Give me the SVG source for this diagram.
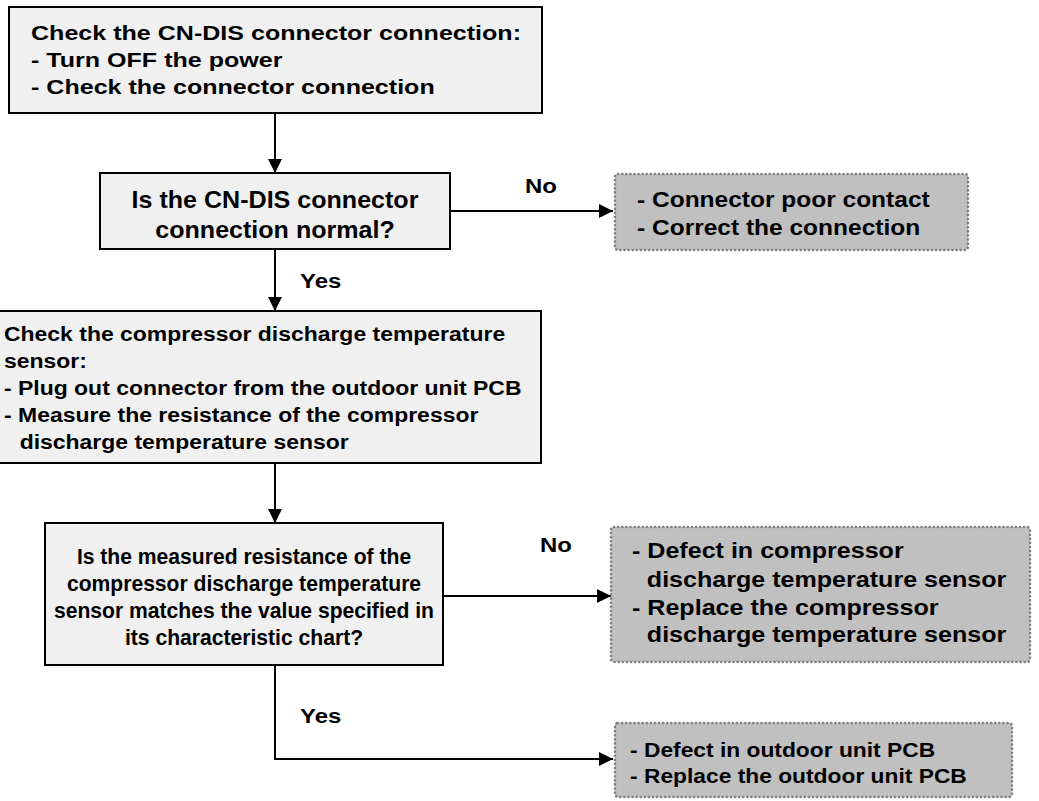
<svg xmlns="http://www.w3.org/2000/svg" width="1039" height="801" viewBox="0 0 1039 801">
<defs>
<style>
.box{fill:#f0f0f0;stroke:#000;stroke-width:2}
.res{fill:#c0c0c0;stroke:#7f7f7f;stroke-width:2.6;stroke-dasharray:0.1 4;stroke-linecap:round}
.t{font-family:"Liberation Sans",Arial,sans-serif;font-weight:bold;fill:#000}
.line{fill:none;stroke:#000;stroke-width:2}
</style>
<marker id="ah" viewBox="0 0 14 14" refX="14" refY="7" markerWidth="14" markerHeight="14" markerUnits="userSpaceOnUse" orient="auto">
<path d="M0,0 L14,7 L0,14 z" fill="#000"/>
</marker>
</defs>
<g id="connectors">
<line class="line" x1="275" y1="113" x2="275" y2="173" marker-end="url(#ah)"/>
<line class="line" x1="450" y1="211" x2="613" y2="211" marker-end="url(#ah)"/>
<line class="line" x1="275" y1="249" x2="275" y2="311" marker-end="url(#ah)"/>
<line class="line" x1="275" y1="463" x2="275" y2="523" marker-end="url(#ah)"/>
<line class="line" x1="443" y1="596" x2="611" y2="596" marker-end="url(#ah)"/>
<polyline class="line" points="275,665 275,759 613,759" marker-end="url(#ah)"/>
<text class="t" font-size="21" transform="translate(525,0) scale(1.14,1)" y="193">No</text>
<text class="t" font-size="21" transform="translate(300,0) scale(1.14,1)" y="288">Yes</text>
<text class="t" font-size="21" transform="translate(540,0) scale(1.14,1)" y="552">No</text>
<text class="t" font-size="21" transform="translate(300,0) scale(1.14,1)" y="723">Yes</text>
</g>
<g id="n1">
<rect class="box" x="9" y="7" width="533" height="106"/>
<text class="t" font-size="21" transform="translate(31,0) scale(1.194,1)"><tspan x="0" y="40">Check the CN-DIS connector connection:</tspan><tspan x="0" y="67">- Turn OFF the power</tspan><tspan x="0" y="94">- Check the connector connection</tspan></text>
</g>
<g id="n2">
<rect class="box" x="100" y="173" width="350" height="76"/>
<text class="t" font-size="23" text-anchor="middle" transform="translate(275,0) scale(1.09,1)"><tspan x="0" y="208">Is the CN-DIS connector</tspan><tspan x="0" y="238">connection normal?</tspan></text>
</g>
<g id="n3">
<rect class="res" x="615" y="174" width="353" height="76" rx="3"/>
<text class="t" font-size="21.5" transform="translate(637,0) scale(1.14,1)"><tspan x="0" y="207">- Connector poor contact</tspan><tspan x="0" y="235">- Correct the connection</tspan></text>
</g>
<g id="n4">
<rect class="box" x="-2" y="311" width="543" height="152"/>
<text class="t" font-size="20.5" transform="translate(4,0) scale(1.12,1)"><tspan x="0" y="341">Check the compressor discharge temperature</tspan><tspan x="0" y="368">sensor:</tspan><tspan x="0" y="395">- Plug out connector from the outdoor unit PCB</tspan><tspan x="0" y="422">- Measure the resistance of the compressor</tspan><tspan x="14" y="449">discharge temperature sensor</tspan></text>
</g>
<g id="n5">
<rect class="box" x="45" y="523" width="398" height="142"/>
<text class="t" font-size="22" text-anchor="middle" transform="translate(244,0) scale(0.96,1)"><tspan x="0" y="564">Is the measured resistance of the</tspan><tspan x="0" y="591">compressor discharge temperature</tspan><tspan x="0" y="618">sensor matches the value specified in</tspan><tspan x="0" y="645">its characteristic chart?</tspan></text>
</g>
<g id="n6">
<rect class="res" x="611" y="527" width="419" height="135" rx="3"/>
<text class="t" font-size="22" transform="translate(632,0) scale(1.14,1)"><tspan x="0" y="558">- Defect in compressor</tspan><tspan x="13" y="587">discharge temperature sensor</tspan><tspan x="0" y="615">- Replace the compressor</tspan><tspan x="13" y="642">discharge temperature sensor</tspan></text>
</g>
<g id="n7">
<rect class="res" x="615" y="723" width="397" height="74" rx="3"/>
<text class="t" font-size="20" transform="translate(630,0) scale(1.14,1)"><tspan x="0" y="757">- Defect in outdoor unit PCB</tspan><tspan x="0" y="783">- Replace the outdoor unit PCB</tspan></text>
</g>
</svg>
